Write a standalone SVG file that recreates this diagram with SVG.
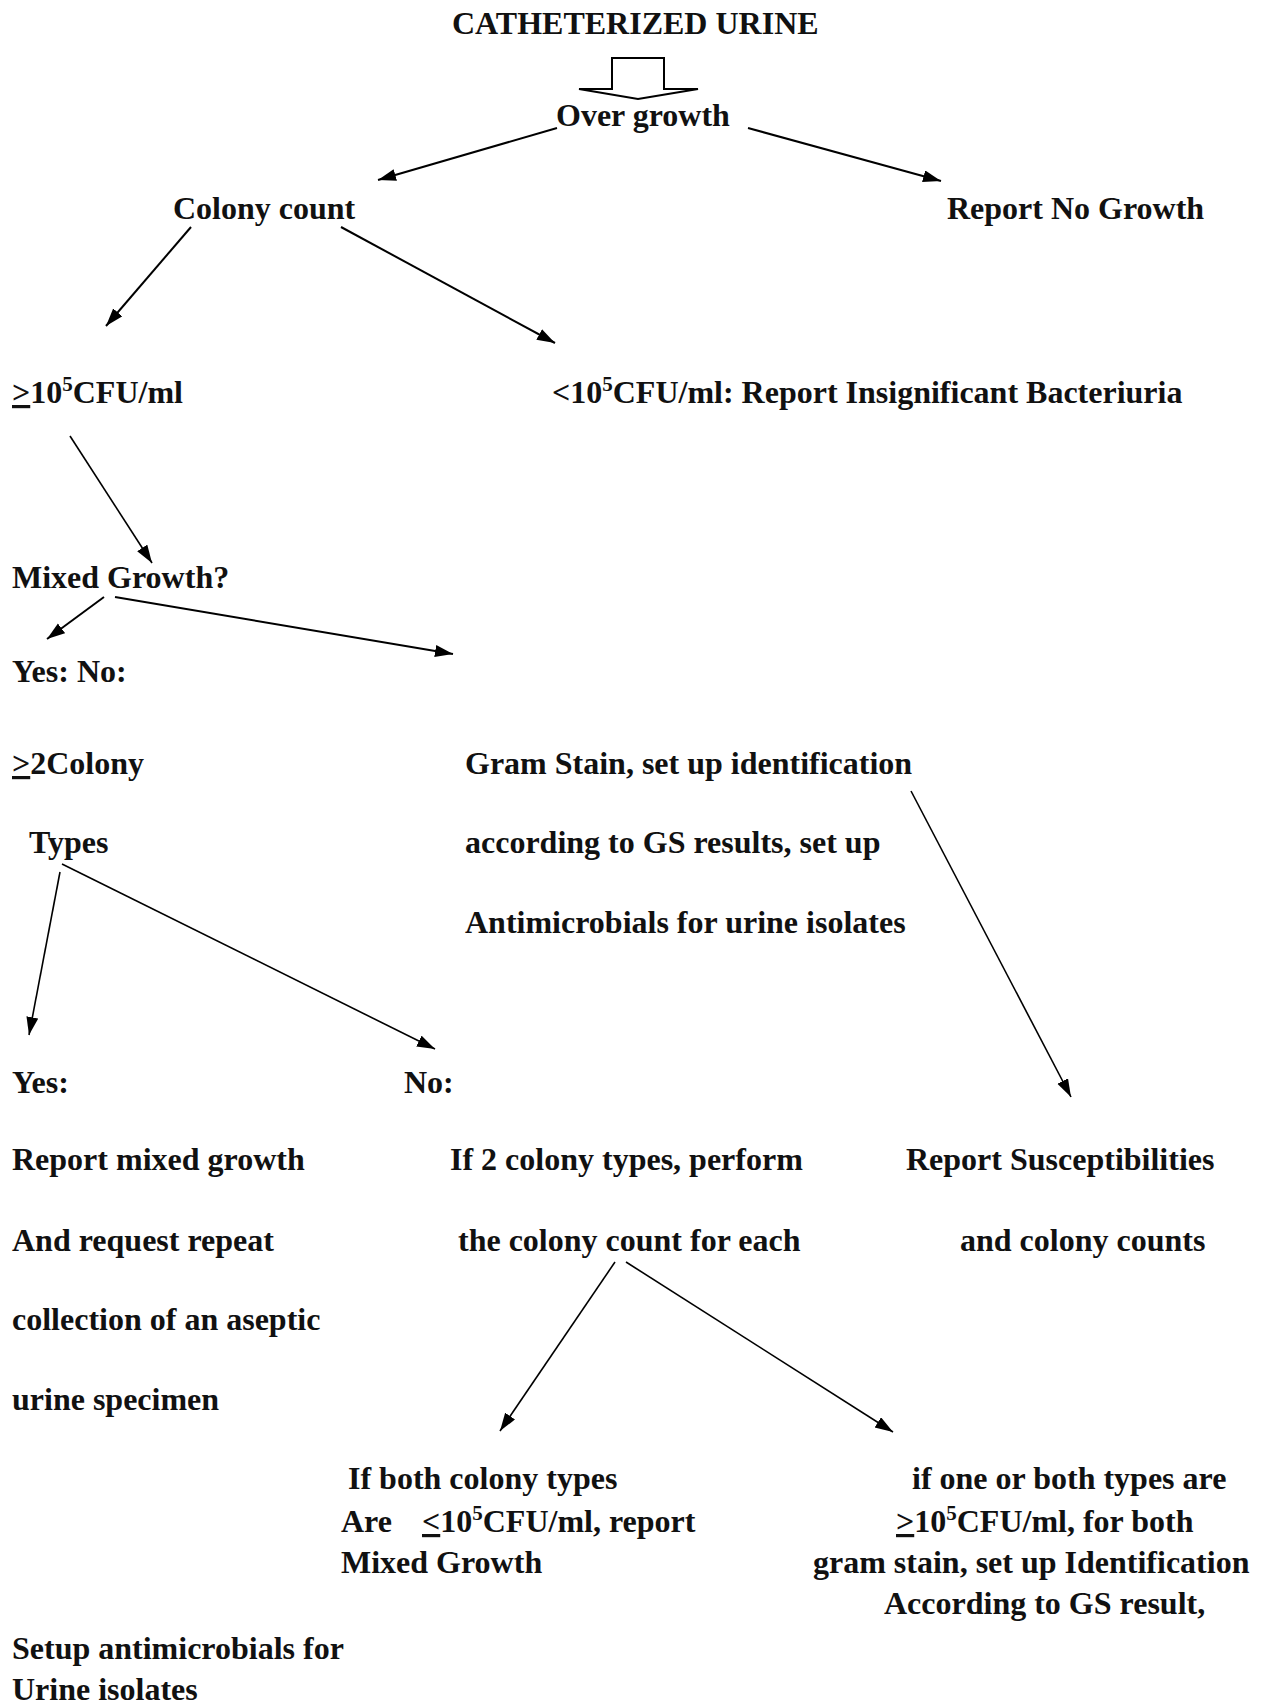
<svg xmlns="http://www.w3.org/2000/svg" width="1261" height="1708" viewBox="0 0 1261 1708">
<defs>
<marker id="ah" markerUnits="userSpaceOnUse" markerWidth="20" markerHeight="14" refX="18" refY="6" orient="auto"><path d="M0,0 L18,6 L0,12 z" fill="#000"/></marker>
<style>
text{font-family:"Liberation Serif","Times New Roman",serif;font-weight:bold;font-size:32px;fill:#111;}
.u{text-decoration:underline;}
.c line{stroke:#000;stroke-width:1.6;marker-end:url(#ah);}
.c line.t{stroke-width:2;}
</style>
</defs>
<rect width="1261" height="1708" fill="#fff"/>
<g id="title"><text x="452" y="34">CATHETERIZED URINE</text></g>
<g id="blockarrow"><polygon points="612,58 664,58 664,89 698,89 638,99 579,89 612,89" fill="#fff" stroke="#000" stroke-width="2"/></g>
<g id="overgrowth"><text x="556" y="126">Over growth</text></g>
<g id="colonycount"><text x="173" y="219">Colony count</text></g>
<g id="nogrowth"><text x="947" y="219">Report No Growth</text></g>
<g id="ge105"><text x="12" y="403"><tspan class="u">&gt;</tspan>10<tspan dy="-12" font-size="21">5</tspan><tspan dy="12">CFU/ml</tspan></text></g>
<g id="lt105"><text x="552" y="403">&lt;10<tspan dy="-12" font-size="21">5</tspan><tspan dy="12">CFU/ml: Report Insignificant Bacteriuria</tspan></text></g>
<g id="mixed"><text x="12" y="588">Mixed Growth?</text></g>
<g id="yesno"><text x="12" y="682">Yes: No:</text></g>
<g id="ge2"><text x="12" y="774"><tspan class="u">&gt;</tspan>2Colony</text><text x="29" y="853">Types</text></g>
<g id="gram"><text x="465" y="774">Gram Stain, set up identification</text><text x="465" y="853">according to GS results, set up</text><text x="465" y="933">Antimicrobials for urine isolates</text></g>
<g id="yes"><text x="12" y="1093">Yes:</text><text x="12" y="1170">Report mixed growth</text><text x="12" y="1251">And request repeat</text><text x="12" y="1330">collection of an aseptic</text><text x="12" y="1410">urine specimen</text></g>
<g id="no"><text x="404" y="1093">No:</text><text x="450" y="1170">If 2 colony types, perform</text><text x="458" y="1251">the colony count for each</text></g>
<g id="susc"><text x="906" y="1170">Report Susceptibilities</text><text x="960" y="1251">and colony counts</text></g>
<g id="bothle"><text x="348" y="1489">If both colony types</text><text x="341" y="1532">Are<tspan x="422" class="u">&lt;</tspan>10<tspan dy="-12" font-size="21">5</tspan><tspan dy="12">CFU/ml, report</tspan></text><text x="341" y="1573">Mixed Growth</text></g>
<g id="onege"><text x="912" y="1489">if one or both types are</text><text x="896" y="1532"><tspan class="u">&gt;</tspan>10<tspan dy="-12" font-size="21">5</tspan><tspan dy="12">CFU/ml, for both</tspan></text><text x="813" y="1573">gram stain, set up Identification</text><text x="884" y="1614">According to GS result,</text></g>
<g id="setup"><text x="12" y="1659">Setup antimicrobials for</text><text x="12" y="1700">Urine isolates</text></g>
<g id="connectors" class="c">
<line class="t" x1="557" y1="128" x2="378" y2="180"/>
<line class="t" x1="748" y1="128" x2="941" y2="181"/>
<line class="t" x1="191" y1="227" x2="106" y2="326"/>
<line class="t" x1="341" y1="227" x2="555" y2="343"/>
<line x1="70" y1="436" x2="152" y2="563"/>
<line class="t" x1="104" y1="597" x2="47" y2="639"/>
<line class="t" x1="115" y1="597" x2="453" y2="654"/>
<line x1="911" y1="791" x2="1071" y2="1097"/>
<line x1="60" y1="872" x2="29" y2="1035"/>
<line x1="62" y1="864" x2="435" y2="1049"/>
<line x1="615" y1="1262" x2="500" y2="1431"/>
<line x1="626" y1="1262" x2="893" y2="1432"/>
</g>
</svg>
